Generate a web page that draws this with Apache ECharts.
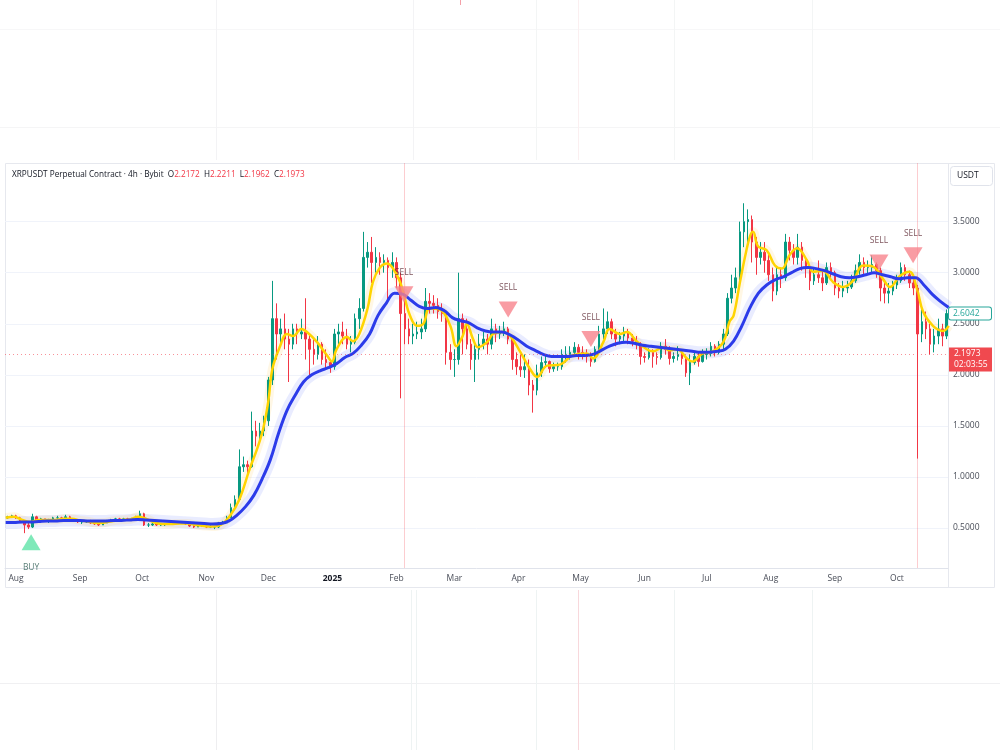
<!DOCTYPE html>
<html>
<head>
<meta charset="utf-8">
<script src="https://cdn.jsdelivr.net/npm/echarts@6/dist/echarts.min.js"></script>
<style>
html, body { margin: 0; padding: 0; background: #fff; }
#chart { width: 1000px; height: 750px; }
</style>
</head>
<body>
<div id="chart"></div>
<script>
// XRPUSDT, candles (2-day steps from 2024-07-27)
var firstOpen = 0.60;
var closes = [
  0.61,0.62,0.60,0.56,0.53,0.51,0.61,0.57,0.59,0.57,0.57,0.60,0.60,0.59,0.61,0.58,0.57,0.56,
  0.56,0.57,0.55,0.54,0.53,0.55,0.57,0.58,0.59,0.58,0.59,0.58,0.59,0.61,0.64,
  0.53,0.53,0.54,0.53,0.53,0.54,0.54,0.55,0.55,0.55,0.54,0.52,0.51,0.52,0.52,
  0.51,0.51,0.51,0.55,0.55,0.60,0.70,0.78,1.10,1.12,1.10,1.45,1.40,1.45,1.55,
  1.95,2.55,2.40,2.45,2.35,2.30,2.45,2.40,2.42,2.35,2.25,2.20,2.30,2.15,2.12,
  2.08,2.40,2.42,2.38,2.30,2.32,2.55,2.65,3.15,3.20,3.10,3.15,3.10,3.12,3.05,3.10,
  2.95,2.60,2.45,2.38,2.40,2.42,2.45,2.72,2.70,2.68,2.62,2.60,2.22,2.15,
  2.15,2.55,2.45,2.30,2.15,2.25,2.30,2.35,2.30,2.45,2.40,2.42,2.45,2.35,2.15,
  2.08,2.05,2.08,1.90,1.85,2.02,2.12,2.13,2.06,2.08,2.08,2.20,2.20,2.22,2.27,
  2.22,2.20,2.18,2.13,2.25,2.40,2.45,2.52,2.40,2.35,2.38,2.42,2.36,2.33,2.30,
  2.18,2.17,2.22,2.18,2.17,2.28,2.25,2.16,2.18,2.20,2.16,2.02,2.12,2.18,2.13,
  2.20,2.21,2.28,2.22,2.30,2.40,2.75,2.85,2.95,3.40,3.50,3.52,3.30,3.15,3.20,
  3.12,2.98,2.82,2.98,2.95,3.30,3.22,3.15,3.25,3.12,3.05,2.92,2.98,2.95,2.90,
  3.05,3.00,2.85,2.82,2.85,2.86,2.92,3.02,3.10,3.05,3.05,3.08,3.02,2.85,2.80,
  2.82,2.88,2.92,3.05,2.98,2.90,2.85,2.40,2.52,2.45,2.30,2.38,2.45,2.38,2.60
];
var highs = [
  0.62,0.63,0.63,0.61,0.57,0.55,0.64,0.62,0.60,0.59,0.59,0.61,0.62,0.61,0.63,0.62,0.59,0.58,
  0.57,0.58,0.58,0.56,0.55,0.57,0.58,0.59,0.60,0.60,0.60,0.60,0.60,0.62,0.67,
  0.65,0.55,0.55,0.55,0.54,0.55,0.55,0.56,0.56,0.56,0.55,0.55,0.53,0.53,0.53,
  0.53,0.53,0.52,0.56,0.57,0.62,0.74,0.82,1.27,1.20,1.16,1.64,1.55,1.53,1.60,
  1.98,2.92,2.70,2.55,2.60,2.45,2.50,2.50,2.55,2.75,2.40,2.35,2.38,2.32,2.25,
  2.15,2.45,2.50,2.52,2.45,2.38,2.60,2.75,3.40,3.30,3.35,3.25,3.20,3.18,3.15,3.20,
  3.15,3.00,2.75,2.55,2.50,2.52,2.55,2.85,2.80,2.78,2.75,2.70,2.62,2.30,
  2.25,3.00,2.60,2.55,2.35,2.30,2.40,2.42,2.40,2.55,2.50,2.48,2.52,2.47,2.38,
  2.22,2.20,2.20,2.15,1.95,2.10,2.18,2.20,2.14,2.12,2.12,2.25,2.28,2.28,2.32,
  2.30,2.28,2.25,2.22,2.28,2.48,2.65,2.62,2.55,2.45,2.42,2.47,2.45,2.40,2.38,
  2.32,2.22,2.26,2.25,2.22,2.32,2.35,2.28,2.22,2.28,2.24,2.18,2.20,2.23,2.22,
  2.25,2.26,2.32,2.30,2.33,2.45,2.80,2.98,3.05,3.50,3.68,3.62,3.56,3.35,3.30,
  3.30,3.18,3.05,3.05,3.05,3.38,3.35,3.28,3.38,3.30,3.15,3.08,3.05,3.12,3.02,
  3.10,3.10,3.02,2.90,2.92,2.92,2.98,3.08,3.18,3.15,3.12,3.17,3.10,3.05,2.90,
  2.90,2.92,2.98,3.10,3.08,3.02,2.95,2.88,2.65,2.62,2.50,2.45,2.55,2.50,2.64
];
var lows = [
  0.59,0.60,0.59,0.55,0.45,0.49,0.50,0.55,0.56,0.56,0.55,0.56,0.59,0.58,0.58,0.57,0.56,0.55,
  0.54,0.55,0.54,0.53,0.52,0.53,0.55,0.56,0.57,0.57,0.57,0.57,0.57,0.58,0.60,
  0.52,0.51,0.52,0.52,0.52,0.52,0.53,0.54,0.54,0.54,0.53,0.51,0.50,0.51,0.51,
  0.50,0.50,0.49,0.50,0.54,0.55,0.60,0.69,0.78,1.05,1.02,1.09,1.30,1.33,1.40,
  1.50,1.90,2.15,2.30,2.25,1.93,2.25,2.30,2.35,2.15,1.99,2.10,2.15,2.10,2.05,
  2.02,2.05,2.30,2.30,2.25,2.22,2.30,2.45,2.62,3.05,2.90,3.00,2.98,3.00,2.70,2.95,
  2.85,1.77,2.30,2.30,2.30,2.35,2.35,2.42,2.60,2.60,2.55,2.52,2.10,2.05,
  1.98,2.10,2.20,2.25,2.05,1.93,2.15,2.25,2.20,2.25,2.32,2.35,2.38,2.30,2.05,
  2.00,1.98,1.97,1.80,1.63,1.80,1.98,2.08,2.02,2.03,2.04,2.05,2.12,2.15,2.18,
  2.15,2.15,2.12,2.08,2.12,2.22,2.35,2.40,2.35,2.28,2.30,2.32,2.30,2.28,2.25,
  2.10,2.12,2.15,2.07,2.10,2.15,2.20,2.10,2.12,2.14,2.10,1.98,1.90,2.10,2.08,
  2.12,2.15,2.18,2.18,2.20,2.25,2.38,2.70,2.80,2.90,3.25,3.30,3.10,2.98,3.08,
  3.00,2.92,2.72,2.78,2.85,2.92,3.12,3.08,3.08,3.02,2.95,2.83,2.88,2.90,2.82,
  2.88,2.95,2.78,2.75,2.76,2.80,2.84,2.90,2.98,2.98,2.98,3.00,2.95,2.72,2.70,
  2.70,2.78,2.84,2.90,2.92,2.85,2.78,1.18,2.32,2.35,2.20,2.22,2.30,2.28,2.35
];

// moving averages, x given as days from 2024-08-01
var yellowDay = [-5,-1,3,7,11,15,19,23,27,31,35,39,43,47,51,55,59,63,67,71,
  75,79,83,87,91,95,99,103.5,108,113,116.5,119.5,122,124,127.7,131,134,138,140.7,145.6,
  150.4,152.8,155,160,163,166,170,172.6,176,179.4,182,185.7,188,190.5,194,197,200,205,210,213,
  216,218,221,223.4,227.8,230.7,235.5,239,243.7,248.5,252,256.8,263,269,276,279,284,287,292,295.5,
  300,305,308,313,316,319.6,324.5,327,332,337,342,345,347,350,353,355,356.4,358.8,363,367,
  370.4,374,377.7,382.5,385.4,390.2,395,400,404.7,409.6,414.4,419.2,422.6,427.5,432,435.7,438.6,443.4,448.3,451];
var yellowVal = [0.60,0.61,0.58,0.56,0.58,0.58,0.58,0.59,0.59,0.575,0.565,0.55,0.555,0.57,0.58,0.585,0.61,0.59,0.555,0.54,
  0.54,0.545,0.545,0.53,0.52,0.515,0.53,0.62,0.78,1.08,1.27,1.47,1.74,2.06,2.28,2.40,2.38,2.45,2.42,2.32,
  2.19,2.13,2.25,2.37,2.33,2.40,2.65,2.91,3.05,3.09,3.05,2.91,2.75,2.58,2.48,2.50,2.65,2.64,2.48,2.28,
  2.38,2.50,2.35,2.27,2.32,2.40,2.42,2.38,2.23,2.06,1.98,2.09,2.10,2.19,2.21,2.16,2.32,2.45,2.40,2.42,
  2.33,2.25,2.23,2.27,2.24,2.25,2.16,2.13,2.21,2.23,2.32,2.52,2.58,2.90,3.20,3.36,3.40,3.26,3.22,3.07,
  3.04,3.17,3.24,3.12,3.01,3.02,2.91,2.86,2.92,3.07,3.06,2.94,2.86,2.97,3.01,2.84,2.62,2.48,2.43,2.48];
// slow line, one reading every 4 days from day -5
var blueVal = [0.555,0.555,0.56,0.56,0.565,0.57,0.57,0.575,0.575,0.575,
  0.57,0.57,0.57,0.575,0.575,0.58,0.585,0.58,0.575,0.57,
  0.565,0.56,0.555,0.55,0.545,0.54,0.545,0.57,0.63,0.71,
  0.82,0.98,1.17,1.43,1.65,1.80,1.93,2.00,2.04,2.07,
  2.11,2.17,2.21,2.29,2.40,2.58,2.70,2.80,2.79,2.73,
  2.67,2.65,2.66,2.63,2.56,2.53,2.51,2.46,2.43,2.42,
  2.42,2.39,2.34,2.28,2.24,2.20,2.18,2.18,2.18,2.19,
  2.19,2.20,2.24,2.28,2.31,2.32,2.31,2.29,2.28,2.27,
  2.26,2.25,2.24,2.23,2.22,2.22,2.23,2.25,2.33,2.48,
  2.66,2.80,2.88,2.93,2.96,3.00,3.04,3.05,3.04,3.02,
  2.99,2.96,2.95,2.96,2.98,3.00,2.98,2.96,2.94,2.95,
  2.95,2.88,2.79,2.72,2.66];

var sellDay = [187.6, 238, 278, 417.3, 433.8];
var sellPrice = [2.79, 2.64, 2.35, 3.10, 3.17];
var buyDay = [7.3];
var buyPrice = [0.36];

var priceTicks = [0.5, 1, 1.5, 2, 2.5, 3, 3.5];
var monthTicks = ['2024-08-01','2024-09-01','2024-10-01','2024-11-01','2024-12-01','2025-01-01','2025-02-01',
  '2025-03-01','2025-04-01','2025-05-01','2025-06-01','2025-07-01','2025-08-01','2025-09-01','2025-10-01'];
var monthNames = ['Aug','Sep','Oct','Nov','Dec','2025','Feb','Mar','Apr','May','Jun','Jul','Aug','Sep','Oct'];
var header = { o: '2.2172', h: '2.2211', l: '2.1962', c: '2.1973' };
var lastPrice = 2.1973, maLast = 2.6042, countdown = '02:03:55';
var alertDay = [187.6, 435.7];

// x axis is counted in days from 2024-08-01
var DAY = 864e5;
var base = Date.UTC(2024, 7, 1);
var monthDay = monthTicks.map(function (s) { return Math.round((Date.parse(s + 'T00:00:00Z') - base) / DAY); });

var candles = [];
var prev = firstOpen;
for (var i = 0; i < closes.length; i++) {
  candles.push([2 * i - 4, prev, closes[i], lows[i], highs[i]]);
  prev = closes[i];
}
var yellow = yellowDay.map(function (d, k) { return [d, yellowVal[k]]; });
var blue = blueVal.map(function (v, k) { return [-5 + 4 * k, v]; });

var chart = echarts.init(document.getElementById('chart'));
var font = '"Open Sans", sans-serif';
var fs = 8.5;
var hs = 8.2;
var option = {
  animation: false,
  backgroundColor: '#ffffff',
  textStyle: { fontFamily: font },
  title: {
    left: 12, top: 171, padding: 0,
    text: '{n|XRPUSDT Perpetual Contract · 4h · Bybit}  {n|O}{v|' + header.o + '}  {n|H}{v|' + header.h +
      '}  {n|L}{v|' + header.l + '}  {n|C}{v|' + header.c + '}',
    textStyle: {
      fontSize: hs, fontWeight: 'normal', fontFamily: font,
      rich: { n: { color: '#131722', fontSize: hs, fontFamily: font }, v: { color: '#F23645', fontSize: hs, fontFamily: font } }
    }
  },
  grid: { left: 5, right: 52, top: 163, bottom: 182 },
  xAxis: {
    type: 'value',
    min: -5.32, max: 450.68,
    axisLine: { show: true, lineStyle: { color: '#e0e3eb' } },
    axisTick: { show: false, customValues: monthDay },
    splitLine: { show: false },
    axisLabel: {
      customValues: monthDay,
      margin: 6,
      fontSize: fs,
      color: '#4a4e59',
      formatter: function (v) {
        var k = monthDay.indexOf(Math.round(v));
        var name = k < 0 ? '' : monthNames[k];
        return name === '2025' ? '{b|2025}' : name;
      },
      rich: { b: { fontWeight: 'bold', fontSize: fs, color: '#131722', fontFamily: font } }
    }
  },
  yAxis: {
    type: 'value',
    position: 'right',
    min: 0.109, max: 4.074,
    axisLine: { show: false },
    axisTick: { show: false, customValues: priceTicks },
    splitLine: { show: true, lineStyle: { color: '#f0f3fa' } },
    axisLabel: {
      customValues: priceTicks,
      margin: 5,
      fontSize: fs,
      color: '#4a4e59',
      formatter: function (v) { return v.toFixed(4); }
    }
  },
  series: [
    {
      type: 'line', data: blue, smooth: 0.4, showSymbol: false, silent: true, z: 1,
      lineStyle: { color: 'rgba(41,70,255,0.10)', width: 12 }
    },
    {
      type: 'line', data: yellow, smooth: 0.4, showSymbol: false, silent: true, z: 1,
      lineStyle: { color: 'rgba(255,190,40,0.12)', width: 9 }
    },
    {
      type: 'candlestick', data: candles, barWidth: 2, z: 2,
      itemStyle: { color: '#089981', color0: '#F23645', borderColor: '#089981', borderColor0: '#F23645', borderWidth: 1 },
      markLine: {
        silent: true, symbol: ['none', 'none'], animation: false,
        data: [
          {
            yAxis: lastPrice,
            lineStyle: { color: 'rgba(242,54,69,0.55)', type: [1, 3], width: 1 },
            label: {
              show: true, position: 'end', distance: 1, offset: [0, 5],
              formatter: lastPrice.toFixed(4) + '\n' + countdown,
              backgroundColor: '#F0494F', color: '#fff', fontSize: fs, lineHeight: 11,
              padding: [1, 3, 1, 5], width: 35, fontFamily: font
            }
          },
          {
            yAxis: maLast,
            lineStyle: { color: 'rgba(0,0,0,0)', width: 0 },
            label: {
              show: true, position: 'end', distance: 1,
              formatter: maLast.toFixed(4),
              backgroundColor: '#fff', borderColor: '#26a69a', borderWidth: 1, borderRadius: 2,
              color: '#26a69a', fontSize: fs, lineHeight: 11,
              padding: [1, 3, 0, 4], width: 35, fontFamily: font
            }
          }
        ]
      }
    },
    {
      type: 'line', data: yellow, smooth: 0.4, showSymbol: false, silent: true, z: 3,
      lineStyle: { color: '#FFD400', width: 2.5 }
    },
    {
      type: 'line', data: blue, smooth: 0.4, showSymbol: false, silent: true, z: 4,
      lineStyle: { color: '#2B3BEA', width: 3 },
      markLine: {
        silent: true, symbol: ['none', 'none'], label: { show: false },
        lineStyle: { color: 'rgba(242,54,69,0.25)', type: 'solid', width: 1 },
        data: alertDay.map(function (d) { return { xAxis: d }; })
      }
    },
    {
      type: 'scatter', z: 5, silent: true,
      symbol: 'triangle', symbolRotate: 180, symbolSize: [19, 16],
      itemStyle: { color: '#F7838C' },
      label: { show: true, position: 'top', distance: 9, formatter: 'SELL', color: '#5e2a35', fontSize: fs, fontFamily: font },
      data: sellDay.map(function (d, k) { return [d, sellPrice[k]]; })
    },
    {
      type: 'scatter', z: 5, silent: true,
      symbol: 'triangle', symbolSize: [19, 16],
      itemStyle: { color: '#5FE3A7' },
      label: { show: true, position: 'bottom', distance: 13, formatter: 'BUY', color: '#2f5e55', fontSize: fs, fontFamily: font },
      data: buyDay.map(function (d, k) { return [d, buyPrice[k]]; })
    }
  ],
  graphic: [
    // faint lines of neighbouring panes above and below
    { type: 'line', silent: true, shape: { x1: 0, y1: 29.5, x2: 1000, y2: 29.5 }, style: { stroke: '#f7f7f8' } },
    { type: 'line', silent: true, shape: { x1: 0, y1: 127.5, x2: 1000, y2: 127.5 }, style: { stroke: '#f5f5f6' } },
    { type: 'line', silent: true, shape: { x1: 0, y1: 683.5, x2: 1000, y2: 683.5 }, style: { stroke: '#f0f0f2' } },
    { type: 'line', silent: true, shape: { x1: 216.5, y1: 0, x2: 216.5, y2: 160 }, style: { stroke: '#f3f3f5' } },
    { type: 'line', silent: true, shape: { x1: 413.5, y1: 0, x2: 413.5, y2: 160 }, style: { stroke: '#f3f3f5' } },
    { type: 'line', silent: true, shape: { x1: 536.5, y1: 0, x2: 536.5, y2: 160 }, style: { stroke: '#f3f5f5' } },
    { type: 'line', silent: true, shape: { x1: 578.5, y1: 0, x2: 578.5, y2: 160 }, style: { stroke: '#fbeff0' } },
    { type: 'line', silent: true, shape: { x1: 674.5, y1: 0, x2: 674.5, y2: 160 }, style: { stroke: '#f3f5f5' } },
    { type: 'line', silent: true, shape: { x1: 812.5, y1: 0, x2: 812.5, y2: 160 }, style: { stroke: '#f3f5f5' } },
    { type: 'line', silent: true, shape: { x1: 460.5, y1: 0, x2: 460.5, y2: 5 }, style: { stroke: '#f4a0a8' } },
    { type: 'line', silent: true, shape: { x1: 216.5, y1: 590, x2: 216.5, y2: 750 }, style: { stroke: '#eeeef0' } },
    { type: 'line', silent: true, shape: { x1: 411.5, y1: 590, x2: 411.5, y2: 750 }, style: { stroke: '#eef3f3' } },
    { type: 'line', silent: true, shape: { x1: 416.5, y1: 590, x2: 416.5, y2: 750 }, style: { stroke: '#eef3f3' } },
    { type: 'line', silent: true, shape: { x1: 536.5, y1: 590, x2: 536.5, y2: 750 }, style: { stroke: '#eef3f3' } },
    { type: 'line', silent: true, shape: { x1: 578.5, y1: 590, x2: 578.5, y2: 750 }, style: { stroke: '#f8d8dc' } },
    { type: 'line', silent: true, shape: { x1: 674.5, y1: 590, x2: 674.5, y2: 750 }, style: { stroke: '#eef3f3' } },
    { type: 'line', silent: true, shape: { x1: 812.5, y1: 590, x2: 812.5, y2: 750 }, style: { stroke: '#eef3f3' } },
    // chart panel frame and price-scale column
    { type: 'rect', silent: true, z: -1, shape: { x: 5.5, y: 163.5, width: 989, height: 424 }, style: { fill: 'none', stroke: '#e6e8ee' } },
    { type: 'line', silent: true, shape: { x1: 948.5, y1: 163, x2: 948.5, y2: 588 }, style: { stroke: '#e6e8ee' } },
    { type: 'rect', silent: true, shape: { x: 950.5, y: 166.5, width: 42, height: 19, r: 3 }, style: { fill: '#fff', stroke: '#e0e3eb' } },
    { type: 'text', silent: true, x: 957, y: 176, style: { text: 'USDT', fill: '#131722', fontSize: fs, fontFamily: font, verticalAlign: 'middle' } }
  ]
};
chart.setOption(option);
</script>
</body>
</html>
